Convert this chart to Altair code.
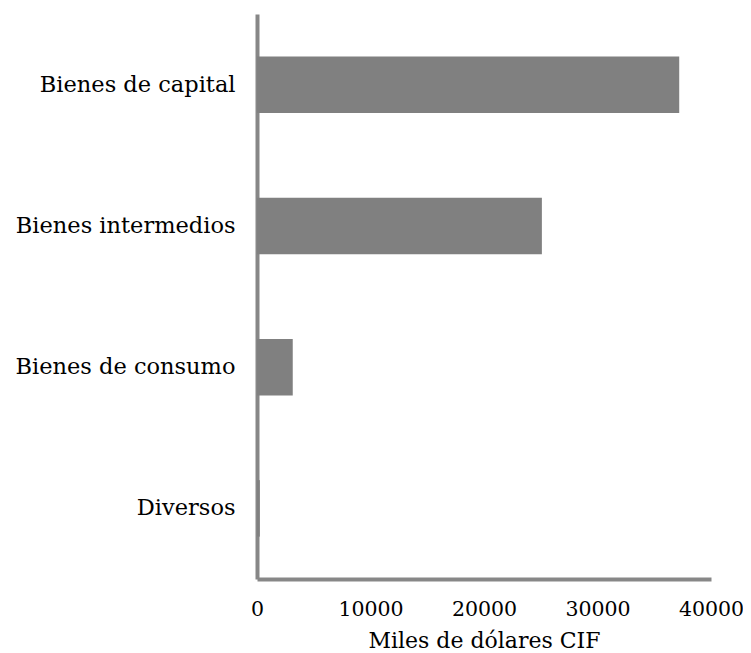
import altair as alt
import pandas as pd

categories = ["Bienes de capital", "Bienes intermedios", "Bienes de consumo", "Diversos"]
values = [37200, 25100, 3150, 250]

df = pd.DataFrame({"cat": categories, "val": values})

FONT = "DejaVu Serif"

chart = alt.Chart(df).mark_bar(color="#808080").encode(
    y=alt.Y("cat:N", sort=categories, title=None,
            scale=alt.Scale(paddingInner=0.6, paddingOuter=0.3),
            axis=alt.Axis(domainColor="#878787", domainWidth=4, ticks=False,
                          labelFont=FONT, labelFontSize=22.5, labelColor="#000000",
                          labelPadding=22, grid=False, labelLimit=400)),
    x=alt.X("val:Q", title="Miles de dólares CIF",
            scale=alt.Scale(domain=[0, 40000], nice=False),
            axis=alt.Axis(values=[0, 10000, 20000, 30000, 40000], format="d",
                          domainColor="#878787", domainWidth=4, ticks=False,
                          labelFont=FONT, labelFontSize=20.5, labelColor="#000000",
                          labelPadding=20, grid=False, labelFlush=False,
                          labelOverlap=False,
                          titleFont=FONT, titleFontSize=22, titleFontWeight="normal",
                          titleColor="#000000", titlePadding=11))
).properties(
    width=454, height=565,
    autosize=alt.AutoSizeParams(type="none"),
    padding={"left": 249, "top": 6, "right": 32, "bottom": 74}
).configure_view(stroke=None)

chart.save("out.html", embed_options={"renderer": "svg", "actions": False})
